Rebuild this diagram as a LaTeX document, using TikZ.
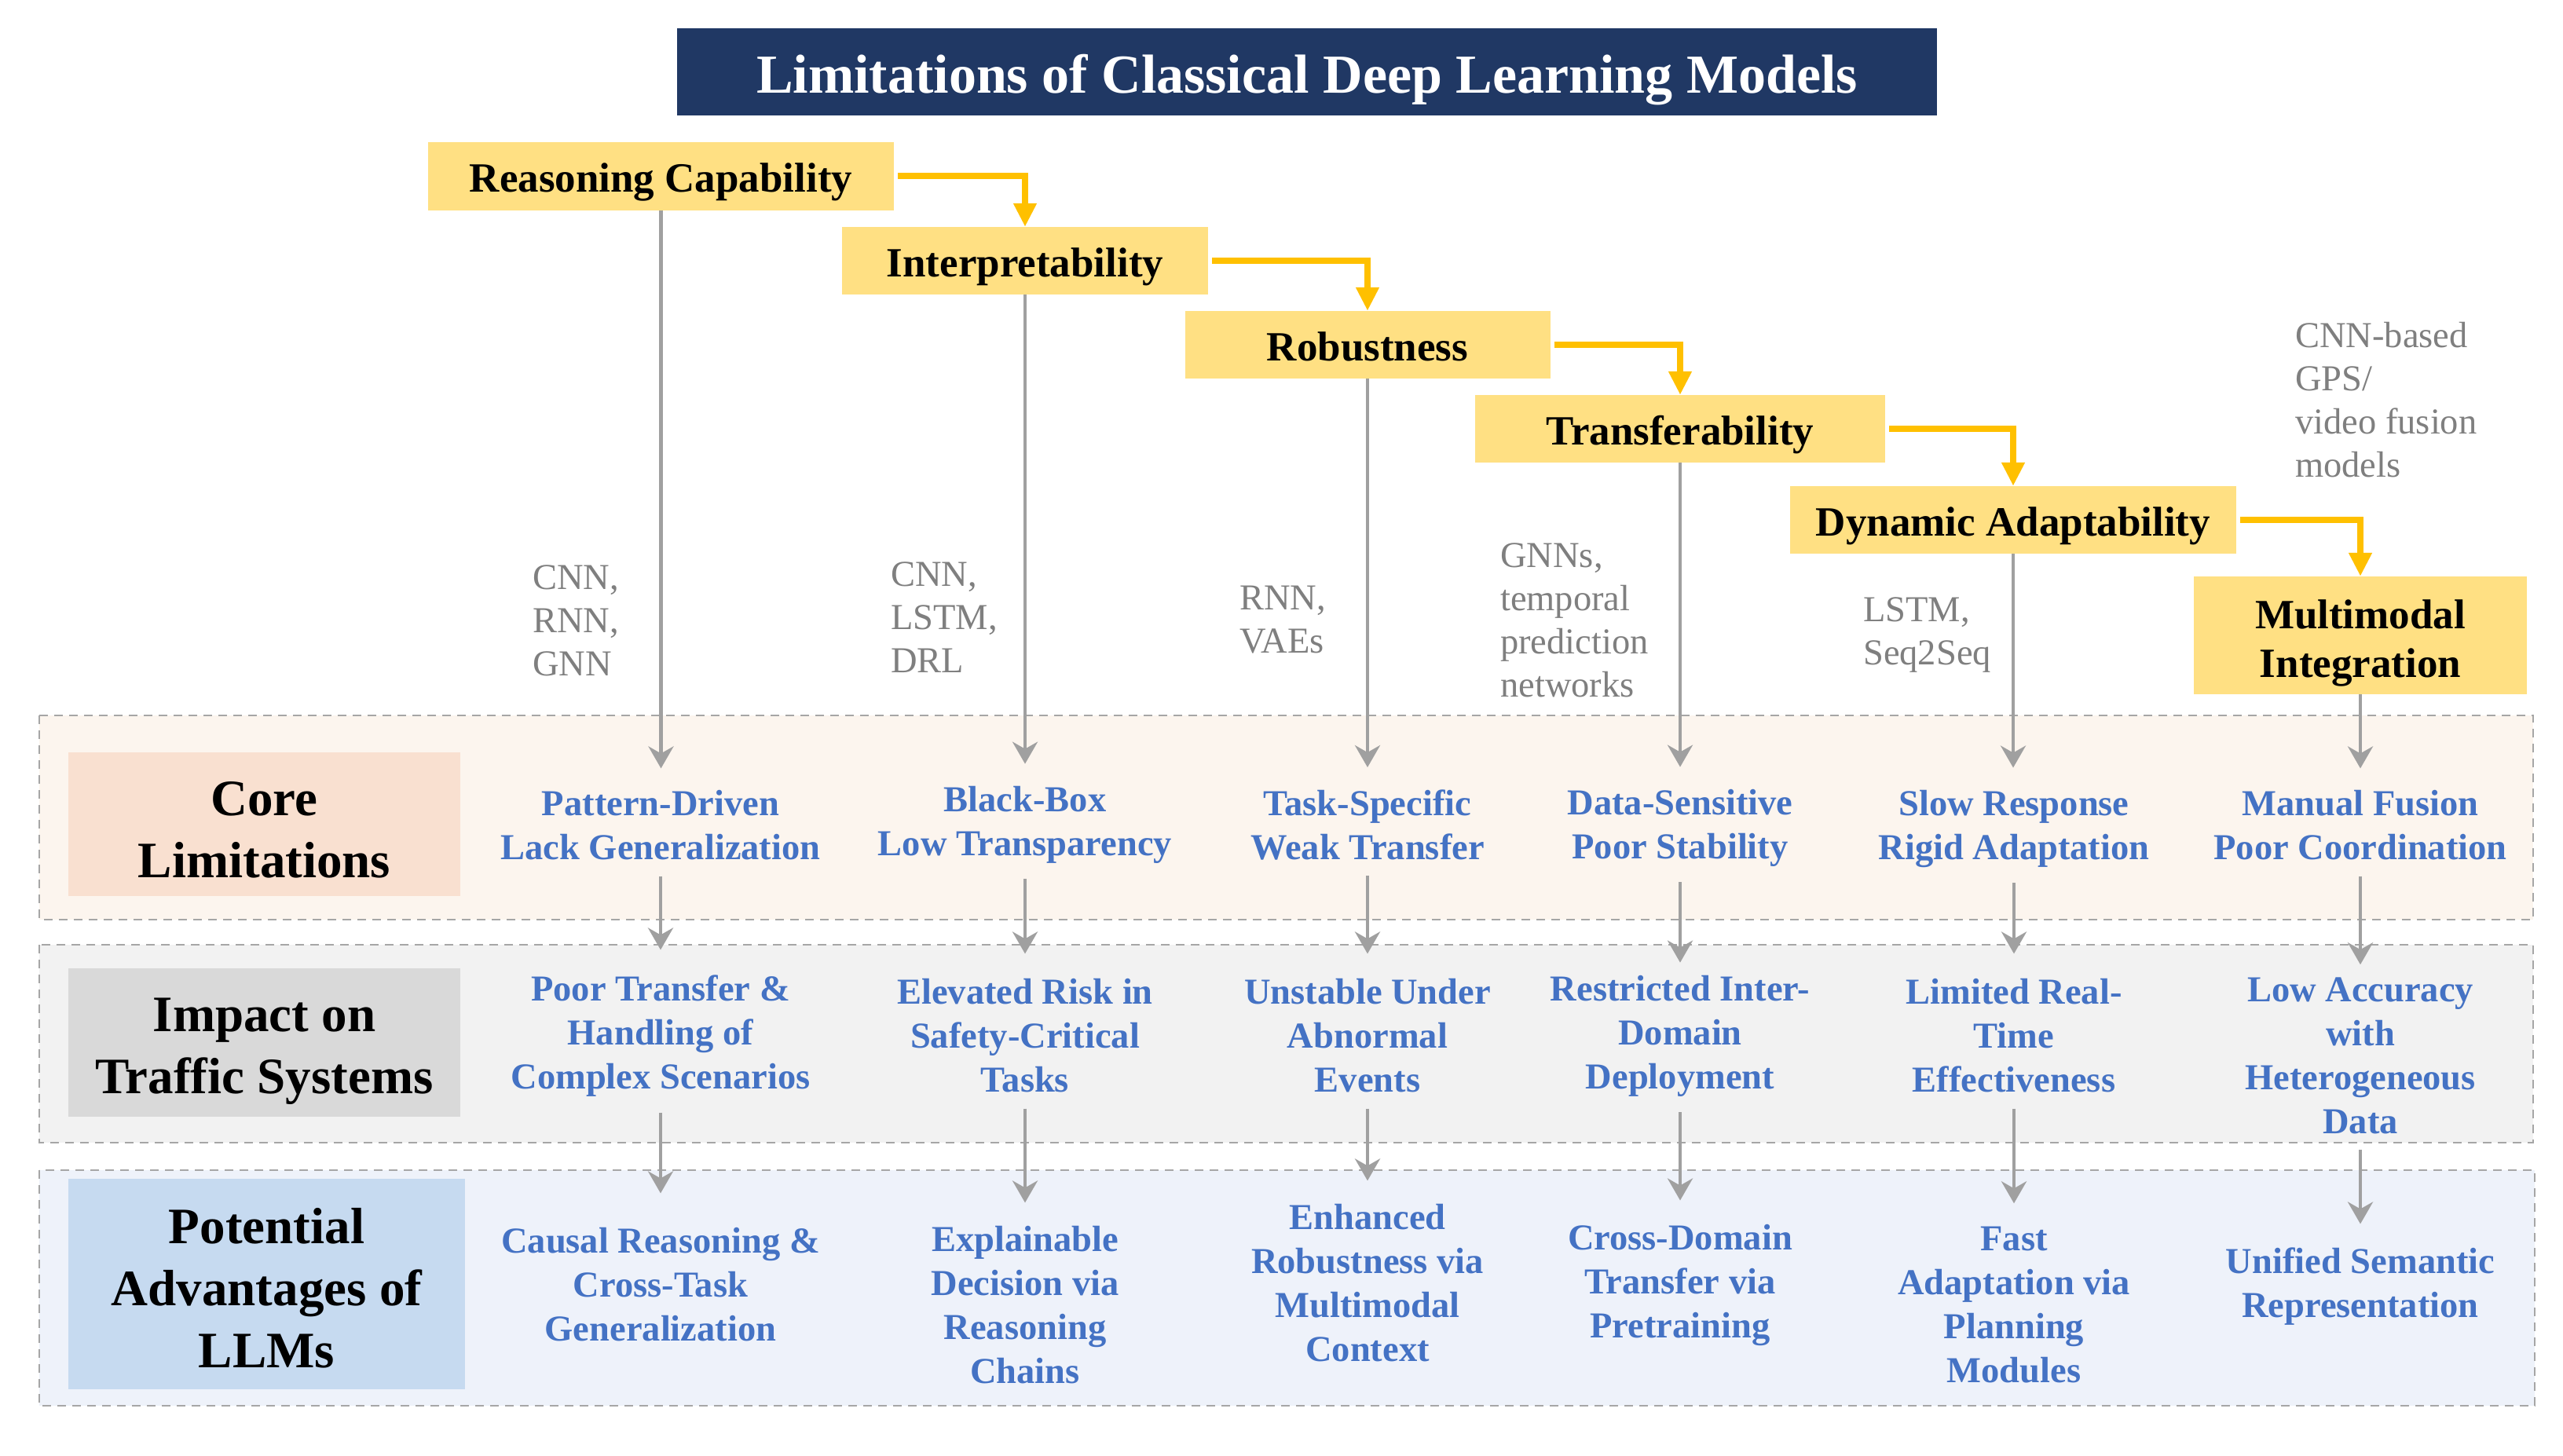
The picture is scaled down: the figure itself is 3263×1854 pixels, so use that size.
\documentclass[tikz,border=0pt]{standalone}
\usepackage{fontspec}
\setmainfont{Liberation Serif}
\usetikzlibrary{arrows.meta,calc}
\definecolor{navy}{HTML}{203864}
\definecolor{hdrfill}{HTML}{FFE083}
\definecolor{gold}{HTML}{FFC000}
\definecolor{garrow}{HTML}{A0A0A0}
\definecolor{gtext}{HTML}{7F7F7F}
\definecolor{bluet}{HTML}{4472C4}
\definecolor{rowA}{HTML}{FCF5EE}
\definecolor{rowB}{HTML}{F2F2F2}
\definecolor{rowC}{HTML}{EEF2FA}
\definecolor{labA}{HTML}{F9E0D0}
\definecolor{labB}{HTML}{D9D9D9}
\definecolor{labC}{HTML}{C6DAF0}
\definecolor{dashc}{HTML}{A6A6A6}
\begin{document}
\begin{tikzpicture}[x=1pt,y=-1pt,
  titlebox/.style={fill=navy, text=white, font=\bfseries\fontsize{70}{80}\selectfont, minimum width=1604pt, minimum height=111pt, inner sep=0, text height=53pt, text depth=0pt},
  hdr/.style={fill=hdrfill, font=\bfseries\fontsize{53}{62}\selectfont, minimum height=86pt, inner sep=0, align=center, text height=40pt, text depth=0pt},
  panel/.style={draw=dashc, line width=2.5pt, dash pattern=on 11pt off 8pt},
  lab/.style={font=\bfseries\fontsize{65}{79}\selectfont, align=center, inner sep=0, text depth=0pt},
  btext/.style={font=\bfseries\fontsize{46.5}{56}\selectfont, text=bluet, align=center, inner sep=0},
  mtext/.style={font=\fontsize{46.5}{55}\selectfont, text=gtext, align=left, anchor=west, inner sep=0},
  oarr/.style={draw=gold, line width=8pt, -{Triangle[width=28pt,length=30pt]}},
  garr/.style={draw=garrow, line width=4.5pt, -{Stealth[width=32pt,length=28pt,inset=9pt]}}
]
\useasboundingbox[fill=white] (0,0) rectangle (3263,1854);

% panels
\draw[panel, fill=rowA] (50,911) rectangle (3225,1171);
\draw[panel, fill=rowB] (50,1203) rectangle (3225,1455);
\draw[panel, fill=rowC] (50,1490) rectangle (3227,1790);

% title
\node[titlebox] (title) at (1664,92) {Limitations of Classical Deep Learning Models};

% header boxes
\node[hdr, minimum width=593pt] (h1) at (841.5,224.5) {Reasoning Capability};
\node[hdr, minimum width=466pt] (h2) at (1305,332) {Interpretability};
\node[hdr, minimum width=465pt] (h3) at (1741,439) {Robustness};
\node[hdr, minimum width=522pt] (h4) at (2139,546) {Transferability};
\node[hdr, minimum width=568pt] (h5) at (2563,662) {Dynamic Adaptability};
\node[hdr, minimum width=424pt, minimum height=150pt, text height=106pt] (h6) at (3005,809) {Multimodal\\Integration};

% orange connectors
\draw[oarr] ([xshift=5pt]h1.east) -| (h2.north);
\draw[oarr] ([xshift=5pt]h2.east) -| (h3.north);
\draw[oarr] ([xshift=5pt]h3.east) -| (h4.north);
\draw[oarr] ([xshift=5pt]h4.east) -| (h5.north);
\draw[oarr] ([xshift=5pt]h5.east) -| (h6.north);

% model texts
\node[mtext] (m1) at (678,790) {CNN,\\RNN,\\GNN};
\node[mtext] (m2) at (1134,786) {CNN,\\LSTM,\\DRL};
\node[mtext] (m3) at (1578,789) {RNN,\\VAEs};
\node[mtext] (m4) at (1910,790) {GNNs,\\temporal\\prediction\\networks};
\node[mtext] (m5) at (2372,809) {LSTM,\\Seq2Seq};
\node[mtext] (m6) at (2922,509) {CNN-based\\GPS/\\video fusion\\models};

% left labels
\node[lab, fill=labA, minimum width=499pt, minimum height=183pt, text height=135pt] (lA) at (336.5,1049.5) {Core\\Limitations};
\node[lab, fill=labB, minimum width=499pt, minimum height=189pt, text height=129pt] (lB) at (336.5,1327.5) {Impact on\\Traffic Systems};
\node[lab, fill=labC, minimum width=505pt, minimum height=268pt, text height=212pt] (lC) at (339.5,1635) {Potential\\Advantages of\\LLMs};

% row 1
\node[btext] (c1) at (841,1051) {Pattern-Driven\\Lack Generalization};
\node[btext] (c2) at (1305,1050) {Black-Box\\Low Transparency};
\node[btext] (c3) at (1741,1050) {Task-Specific\\Weak Transfer};
\node[btext] (c4) at (2139,1054) {Data-Sensitive\\Poor Stability};
\node[btext] (c5) at (2564,1055) {Slow Response\\Rigid Adaptation};
\node[btext] (c6) at (3005,1051) {Manual Fusion\\Poor Coordination};

% row 2
\node[btext] (i1) at (841,1319) {Poor Transfer \&\\Handling of\\Complex Scenarios};
\node[btext] (i2) at (1305,1319) {Elevated Risk in\\Safety-Critical\\Tasks};
\node[btext] (i3) at (1741,1319) {Unstable Under\\Abnormal\\Events};
\node[btext] (i4) at (2139,1319) {Restricted Inter-\\Domain\\Deployment};
\node[btext] (i5) at (2564,1319) {Limited Real-\\Time\\Effectiveness};
\node[btext] (i6) at (3005,1344) {Low Accuracy\\with\\Heterogeneous\\Data};

% row 3
\node[btext] (p1) at (841,1636) {Causal Reasoning \&\\Cross-Task\\Generalization};
\node[btext] (p2) at (1305,1662) {Explainable\\Decision via\\Reasoning\\Chains};
\node[btext] (p3) at (1741,1634) {Enhanced\\Robustness via\\Multimodal\\Context};
\node[btext] (p4) at (2139,1636) {Cross-Domain\\Transfer via\\Pretraining};
\node[btext] (p5) at (2564,1662) {Fast\\Adaptation via\\Planning\\Modules};
\node[btext] (p6) at (3005,1638) {Unified Semantic\\Representation};

% gray arrows: header -> row 1
\foreach \h/\c in {h1/c1,h2/c2,h3/c3,h4/c4,h5/c5,h6/c6}
  \draw[garr, shorten >=28pt] (\h.south) -- (\h.south |- \c.north);

% row 1 -> row 2
\foreach \c/\i/\g in {c1/i1/32,c2/i2/32,c3/i3/32,c4/i4/16,c5/i5/32,c6/i6/16}
  \draw[garr, shorten <=20pt, shorten >=\g pt] (\c.south) -- (\c.south |- \i.north);

% row 2 -> row 3
\foreach \i/\p/\g in {i1/p1/44,i2/p2/30,i3/p3/30,i4/p4/30,i5/p5/30,i6/p6/30}
  \draw[garr, shorten <=20pt, shorten >=\g pt] (\i.south) -- (\i.south |- \p.north);
\end{tikzpicture}
\end{document}
